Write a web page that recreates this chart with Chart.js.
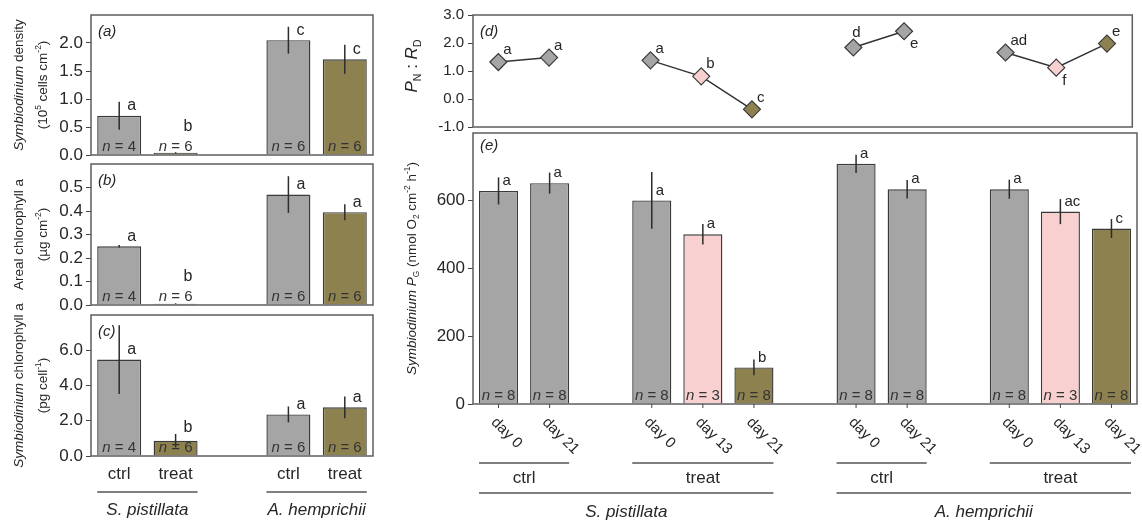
<!DOCTYPE html>
<html>
<head>
<meta charset="utf-8">
<script src="https://cdn.jsdelivr.net/npm/chart.js@4.4.1/dist/chart.umd.min.js"></script>
<style>
  html, body { margin: 0; padding: 0; background: #fff; }
  #fig { position: relative; width: 1142px; height: 523px; }
  #fig canvas { position: absolute; left: 0; top: 0; }
</style>
</head>
<body>
<div id="fig">
  <canvas id="panelA" width="1142" height="523"></canvas>
  <canvas id="panelB" width="1142" height="523"></canvas>
  <canvas id="panelC" width="1142" height="523"></canvas>
  <canvas id="panelD" width="1142" height="523"></canvas>
  <canvas id="panelE" width="1142" height="523"></canvas>
</div>
<script>
/* ---------- data ---------- */

// left column: 5 slots, the middle one is an empty spacer
const LEFT_CATS = ['ctrl', 'treat', '', 'ctrl', 'treat'];
const LEFT_SPECIES = [
  { label: 'S. pistillata', from: 0, to: 1 },
  { label: 'A. hemprichii', from: 3, to: 4 }
];

const densityMean    = [0.70, 0.04, null, 2.05, 1.71];
const densityErr     = [0.25, 0.01, null, 0.24, 0.26];
const densityLetters = ['a', 'b', '', 'c', 'c'];
const densityN       = [4, 6, null, 6, 6];

const chlAreaMean    = [0.25, 0.005, null, 0.47, 0.395];
const chlAreaErr     = [0.005, 0.002, null, 0.078, 0.034];
const chlAreaLetters = ['a', 'b', '', 'a', 'a'];
const chlAreaN       = [4, 6, null, 6, 6];

const chlCellMean    = [5.47, 0.87, null, 2.36, 2.76];
const chlCellErr     = [1.95, 0.38, null, 0.45, 0.62];
const chlCellLetters = ['a', 'b', '', 'a', 'a'];
const chlCellN       = [4, 6, null, 6, 6];

// right column: 13 slots, spacers between groups
const DAY_CATS = ['day 0', 'day 21', '', 'day 0', 'day 13', 'day 21', '',
                  'day 0', 'day 21', '', 'day 0', 'day 13', 'day 21'];
const TREAT_GROUPS = [
  { label: 'ctrl', from: 0, to: 1 },
  { label: 'treat', from: 3, to: 5 },
  { label: 'ctrl', from: 7, to: 8 },
  { label: 'treat', from: 10, to: 12 }
];
const SPECIES_GROUPS = [
  { label: 'S. pistillata', from: 0, to: 5 },
  { label: 'A. hemprichii', from: 7, to: 12 }
];

const pnRd        = [1.32, 1.48, null, 1.38, 0.81, -0.37, null, 1.84, 2.42, null, 1.66, 1.12, 1.98];
const pnRdLetters = ['a', 'a', '', 'a', 'b', 'c', '', 'd', 'e', '', 'ad', 'f', 'e'];

const pgMean    = [629, 652, null, 601, 501, 108, null, 709, 634, null, 634, 568, 518];
const pgErr     = [40, 31, null, 84, 30, 23, null, 27, 27, null, 28, 37, 28];
const pgLetters = ['a', 'a', '', 'a', 'a', 'b', '', 'a', 'a', '', 'a', 'ac', 'c'];
const pgN       = [8, 8, null, 8, 3, 8, null, 8, 8, null, 8, 3, 8];

/* ---------- style ---------- */

const W = 1142, H = 523;
const FONT = '"Liberation Sans", Arial, Helvetica, sans-serif';
const GREY = '#a5a5a5', PINK = '#f8d0d0', OLIVE = '#8d824f';
const EDGE = '#3a3a3a', TEXT = '#262626', FRAME = '#5e5e5e';

const LEFT_FILL  = [GREY, OLIVE, null, GREY, OLIVE];
const RIGHT_FILL = [GREY, GREY, null, GREY, PINK, OLIVE, null, GREY, GREY, null, GREY, PINK, OLIVE];
// where each letter sits around its diamond in panel (d)
const PN_LABEL_POS = ['ne', 'ne', null, 'ne', 'ne', 'ne', null, 'n', 'se', null, 'ne', 'se', 'ne'];

const X_LABEL_BAND = 40; // height kept for the ctrl / treat tick labels

const fmt1 = v => v.toFixed(1);
const fmt0 = v => String(Math.round(v));

function font(size, italic) {
  return (italic ? 'italic ' : '') + size + 'px ' + FONT;
}

// pad the full-page canvas so the plot area lands on the given box
function pad(a, xH) {
  return { left: 0, top: a.t, right: W - a.r, bottom: H - a.b - (xH || 0) };
}

// mixed italic / sub / sup text, centred on (x, y), optionally rotated to read upwards
function drawRich(ctx, segs, x, y, size, rotate) {
  ctx.save();
  ctx.translate(x, y);
  if (rotate) ctx.rotate(-Math.PI / 2);
  let total = 0;
  const parts = segs.map(([t, st]) => {
    const small = st === 'sub' || st === 'sup';
    const f = font(small ? size * 0.62 : size, st === 'i');
    ctx.font = f;
    const w = ctx.measureText(t).width;
    total += w;
    return { t, st, f, w };
  });
  let cx = -total / 2;
  ctx.textAlign = 'left';
  ctx.textBaseline = 'alphabetic';
  ctx.fillStyle = TEXT;
  for (const p of parts) {
    ctx.font = p.f;
    const dy = p.st === 'sub' ? size * 0.22 : p.st === 'sup' ? -size * 0.4 : 0;
    ctx.fillText(p.t, cx, size * 0.35 + dy);
    cx += p.w;
  }
  ctx.restore();
}

function yAxis(p) {
  return {
    min: p.yMin !== undefined ? p.yMin : 0,
    max: p.yMax,
    ticks: {
      stepSize: p.yStep,
      padding: p.tickPad || 3,
      color: TEXT,
      font: { family: FONT, size: p.tickSize },
      callback: v => p.fmt(v)
    },
    afterBuildTicks: s => { s.ticks = s.ticks.filter(t => t.value <= p.yTop + 1e-9); },
    afterFit: s => { s.width = p.area.l; },
    grid: { drawOnChartArea: false, drawTicks: true, tickLength: 5, color: '#444', lineWidth: 1 },
    border: { display: false }
  };
}

function groupLine(ctx, meta, g, yLine) {
  const a = meta.data[g.from], b = meta.data[g.to];
  const x0 = a.x - a.width / 2, x1 = b.x + b.width / 2;
  ctx.beginPath();
  ctx.moveTo(x0, yLine);
  ctx.lineTo(x1, yLine);
  ctx.stroke();
  return (x0 + x1) / 2;
}

function drawN(ctx, n, px, py, size) {
  ctx.font = font(size, true);
  const w1 = ctx.measureText('n').width;
  ctx.font = font(size, false);
  const rest = ' = ' + n;
  const w2 = ctx.measureText(rest).width;
  let x0 = px - (w1 + w2) / 2;
  ctx.textAlign = 'left';
  ctx.textBaseline = 'middle';
  ctx.fillStyle = '#333';
  ctx.font = font(size, true);
  ctx.fillText('n', x0, py);
  ctx.font = font(size, false);
  ctx.fillText(rest, x0 + w1, py);
}

/* ---------- annotations drawn over each panel ---------- */

function decor(p) {
  return {
    id: 'decor',
    afterDatasetsDraw(chart) {
      const { ctx, chartArea: ca } = chart;
      const x = chart.scales.x, y = chart.scales.y;
      const meta = chart.getDatasetMeta(0);
      ctx.save();

      if (p.err) {
        ctx.strokeStyle = '#2c2c2c';
        ctx.lineWidth = 1.5;
        p.mean.forEach((m, i) => {
          if (m == null) return;
          const px = x.getPixelForValue(i);
          ctx.beginPath();
          ctx.moveTo(px, y.getPixelForValue(m + p.err[i]));
          ctx.lineTo(px, y.getPixelForValue(Math.max(m - p.err[i], 0)));
          ctx.stroke();
        });
      }

      // significance letters
      ctx.fillStyle = TEXT;
      ctx.textBaseline = 'middle';
      ctx.font = font(p.letterSize, false);
      p.mean.forEach((m, i) => {
        if (m == null || !p.letters[i]) return;
        const px = x.getPixelForValue(i), py = y.getPixelForValue(m);
        if (p.pointLetters) {
          const pos = PN_LABEL_POS[i];
          if (pos === 'n') { ctx.textAlign = 'center'; ctx.fillText(p.letters[i], px + 3, py - 15); }
          else if (pos === 'se') { ctx.textAlign = 'left'; ctx.fillText(p.letters[i], px + 6, py + 13); }
          else { ctx.textAlign = 'left'; ctx.fillText(p.letters[i], px + 5, py - 12); }
        } else {
          ctx.textAlign = 'left';
          ctx.fillText(p.letters[i], px + p.letterDx, Math.min(py - 10, ca.bottom - 28));
        }
      });

      // sample sizes inside the bars
      if (p.ns) {
        p.ns.forEach((n, i) => {
          if (n == null) return;
          drawN(ctx, n, x.getPixelForValue(i), ca.bottom - 8.5, p.nSize);
        });
      }

      // panel frame
      ctx.strokeStyle = FRAME;
      ctx.lineWidth = 1.5;
      ctx.strokeRect(ca.left, ca.top, ca.right - ca.left, ca.bottom - ca.top);

      // panel tag
      ctx.fillStyle = TEXT;
      ctx.font = font(p.tagSize, true);
      ctx.textAlign = 'left';
      ctx.textBaseline = 'middle';
      ctx.fillText(p.tag, ca.left + 7, ca.top + p.tagDy);

      // axis titles
      const midY = (ca.top + ca.bottom) / 2;
      p.titles.forEach(tl => drawRich(ctx, tl.segs, tl.x, tl.y !== undefined ? tl.y : midY, tl.size, true));

      ctx.strokeStyle = '#555';
      ctx.lineWidth = 1.5;
      ctx.fillStyle = TEXT;
      ctx.textAlign = 'center';
      ctx.textBaseline = 'middle';

      if (p.leftGroups) {
        ctx.font = font(17, true);
        LEFT_SPECIES.forEach(g => {
          const cx = groupLine(ctx, meta, g, ca.bottom + 36);
          ctx.fillText(g.label, cx, ca.bottom + 54);
        });
      }

      if (p.rightGroups) {
        // tick marks under the bars
        ctx.strokeStyle = '#444';
        ctx.lineWidth = 1;
        p.mean.forEach((m, i) => {
          if (m == null) return;
          const px = x.getPixelForValue(i);
          ctx.beginPath();
          ctx.moveTo(px, ca.bottom);
          ctx.lineTo(px, ca.bottom + 4);
          ctx.stroke();
        });
        // slanted day labels
        ctx.font = font(15, false);
        ctx.textAlign = 'left';
        DAY_CATS.forEach((lab, i) => {
          if (!lab) return;
          ctx.save();
          ctx.translate(x.getPixelForValue(i) - 5, ca.bottom + 16);
          ctx.rotate(Math.PI / 4);
          ctx.fillText(lab, 0, 0);
          ctx.restore();
        });
        ctx.textAlign = 'center';
        ctx.strokeStyle = '#555';
        ctx.lineWidth = 1.5;
        ctx.font = font(17, false);
        TREAT_GROUPS.forEach(g => {
          const cx = groupLine(ctx, meta, g, ca.bottom + 59);
          ctx.fillText(g.label, cx, ca.bottom + 74);
        });
        ctx.font = font(17, true);
        SPECIES_GROUPS.forEach(g => {
          const cx = groupLine(ctx, meta, g, ca.bottom + 89);
          ctx.fillText(g.label, cx, ca.bottom + 108);
        });
      }

      ctx.restore();
    }
  };
}

/* ---------- panel builders ---------- */

function barPanel(id, p) {
  return new Chart(document.getElementById(id), {
    type: 'bar',
    data: {
      labels: p.cats,
      datasets: [{
        data: p.mean,
        backgroundColor: p.fill,
        borderColor: EDGE,
        borderWidth: 1.4,
        borderSkipped: 'start',
        categoryPercentage: 1,
        barPercentage: p.barPct
      }]
    },
    options: {
      responsive: false,
      animation: false,
      devicePixelRatio: 1,
      layout: { padding: pad(p.area, p.xLabels ? X_LABEL_BAND : 0) },
      plugins: { legend: { display: false }, tooltip: { enabled: false } },
      scales: {
        x: p.xLabels ? {
          offset: true,
          ticks: { padding: 8, color: TEXT, font: { family: FONT, size: 17 }, autoSkip: false, maxRotation: 0 },
          grid: { display: false, drawTicks: false },
          border: { display: false },
          afterFit: s => { s.height = X_LABEL_BAND; }
        } : { display: false, offset: true },
        y: yAxis(p)
      }
    },
    plugins: [decor(p)]
  });
}

const LEFT_COMMON = {
  cats: LEFT_CATS, fill: LEFT_FILL, barPct: 0.78, tickSize: 17,
  letterSize: 16, letterDx: 8, nSize: 15, tagSize: 15, tagDy: 17, fmt: fmt1
};

barPanel('panelA', Object.assign({}, LEFT_COMMON, {
  area: { l: 91, t: 15, r: 373, b: 155 },
  mean: densityMean, err: densityErr, letters: densityLetters, ns: densityN,
  yMax: 2.5, yStep: 0.5, yTop: 2.0, tag: '(a)',
  titles: [
    { x: 18.5, size: 13.5, segs: [['Symbiodinium', 'i'], [' density', '']] },
    { x: 42, size: 13.5, segs: [['(10', ''], ['5', 'sup'], [' cells cm', ''], ['-2', 'sup'], [')', '']] }
  ]
}));

barPanel('panelB', Object.assign({}, LEFT_COMMON, {
  area: { l: 91, t: 164, r: 373, b: 305 },
  mean: chlAreaMean, err: chlAreaErr, letters: chlAreaLetters, ns: chlAreaN,
  yMax: 0.6, yStep: 0.1, yTop: 0.5, tag: '(b)',
  titles: [
    { x: 18.5, size: 13.5, segs: [['Areal chlorophyll a', '']] },
    { x: 42, size: 13.5, segs: [['(\u00b5g cm', ''], ['-2', 'sup'], [')', '']] }
  ]
}));

barPanel('panelC', Object.assign({}, LEFT_COMMON, {
  area: { l: 91, t: 315, r: 373, b: 456 },
  mean: chlCellMean, err: chlCellErr, letters: chlCellLetters, ns: chlCellN,
  yMax: 8, yStep: 2, yTop: 6, tag: '(c)', xLabels: true, leftGroups: true,
  titles: [
    { x: 18.5, size: 13.5, segs: [['Symbiodinium', 'i'], [' chlorophyll a', '']] },
    { x: 42, size: 13.5, segs: [['(pg cell', ''], ['-1', 'sup'], [')', '']] }
  ]
}));

// (d) photosynthesis : respiration ratio, diamonds joined within each group
const dOpts = {
  area: { l: 473, t: 15, r: 1137, b: 127 },
  mean: pnRd, letters: pnRdLetters, pointLetters: true,
  yMin: -1, yMax: 3, yStep: 1, yTop: 3, tickSize: 15, tickPad: 4, fmt: fmt1,
  letterSize: 15, tagSize: 15, tagDy: 17, tag: '(d)',
  titles: [
    { x: 411, y: 66, size: 17, segs: [['P', 'i'], ['N', 'sub'], [' : ', ''], ['R', 'i'], ['D', 'sub']] }
  ]
};

new Chart(document.getElementById('panelD'), {
  type: 'line',
  data: {
    labels: DAY_CATS,
    datasets: [{
      data: pnRd,
      borderColor: '#333',
      borderWidth: 1.5,
      tension: 0,
      spanGaps: false,
      pointStyle: 'rectRot',
      pointRadius: 8.5,
      pointBackgroundColor: RIGHT_FILL,
      pointBorderColor: EDGE,
      pointBorderWidth: 1.2
    }]
  },
  options: {
    responsive: false,
    animation: false,
    devicePixelRatio: 1,
    layout: { padding: pad(dOpts.area) },
    plugins: { legend: { display: false }, tooltip: { enabled: false } },
    scales: {
      x: { display: false, offset: true },
      y: yAxis(dOpts)
    }
  },
  plugins: [decor(dOpts)]
});

// (e) gross photosynthesis bars
barPanel('panelE', {
  area: { l: 473, t: 133, r: 1137, b: 404 },
  cats: DAY_CATS, fill: RIGHT_FILL, barPct: 0.765,
  mean: pgMean, err: pgErr, letters: pgLetters, ns: pgN,
  yMax: 800, yStep: 200, yTop: 600, tickSize: 17, fmt: fmt0,
  letterSize: 15, letterDx: 4, nSize: 15, tagSize: 15, tagDy: 13, tag: '(e)',
  rightGroups: true,
  titles: [
    { x: 411, size: 13.5, segs: [['Symbiodinium ', 'i'], ['P', 'i'], ['G', 'sub'], [' (nmol O', ''], ['2', 'sub'],
      [' cm', ''], ['-2', 'sup'], [' h', ''], ['-1', 'sup'], [')', '']] }
  ]
});
</script>
</body>
</html>
